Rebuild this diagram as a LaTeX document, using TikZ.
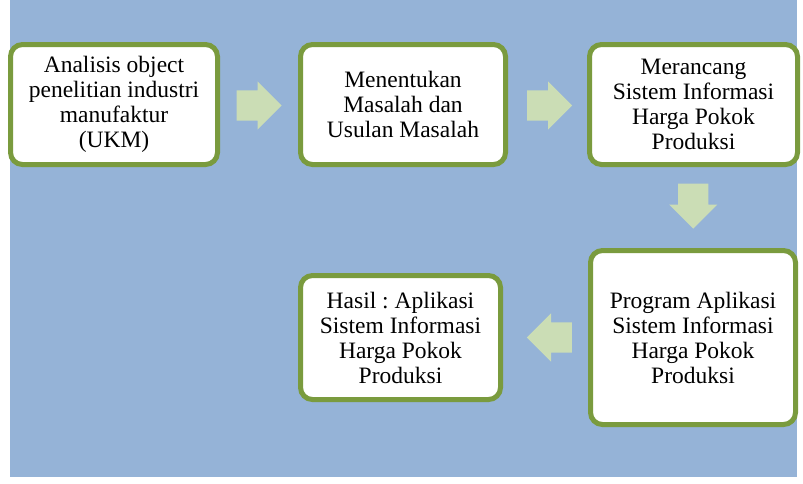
\documentclass[tikz,border=0pt]{standalone}
\usepackage{fontspec}
\setmainfont{Liberation Serif}
\usetikzlibrary{shapes.arrows,positioning,calc}
\frenchspacing

\definecolor{bgblue}{RGB}{149,179,215}
\definecolor{boxgreen}{RGB}{122,155,62}
\definecolor{arrgreen}{RGB}{203,221,181}

\begin{document}
\begin{tikzpicture}[
x=1pt,y=-1pt,
font=\fontsize{23.5}{25}\selectfont,
stepbox/.style={draw=boxgreen, line width=5pt, rounded corners=12pt, fill=white, align=center, inner sep=2pt},
blockarr/.style={single arrow, fill=arrgreen, draw=none, inner xsep=0pt, inner ysep=15pt, single arrow head extend=9pt, minimum height=45pt, anchor=tail}
]
\useasboundingbox (0,0) rectangle (803,483);
\fill[bgblue] (10,0) rectangle (797,477);
\node[stepbox, minimum width=207pt, minimum height=120pt] (s1) at (114,104.5) {Analisis object\\penelitian industri\\manufaktur\\(UKM)};
\node[stepbox, minimum width=205pt, minimum height=120pt] (s2) at (403,104.5) {Menentukan\\Masalah dan\\Usulan Masalah};
\node[stepbox, minimum width=208pt, minimum height=120pt] (s3) at (693.5,104.5) {Merancang\\Sistem Informasi\\Harga Pokok\\Produksi};
\node[stepbox, minimum width=205pt, minimum height=174pt] (s4) at (693,337.5) {Program Aplikasi\\Sistem Informasi\\Harga Pokok\\Produksi};
\node[stepbox, minimum width=200pt, minimum height=124pt] (s5) at (400.5,337.5) {Hasil : Aplikasi\\Sistem Informasi\\Harga Pokok\\Produksi};
% block arrows between the steps
\node[blockarr] (a12) at ($(s1.east)!0.5!(s2.west)+(-22.5,1)$) {};
\node[blockarr] (a23) at ($(s2.east)!0.5!(s3.west)+(-20.5,1)$) {};
\node[blockarr, rotate=-90] (a34) at ($(s3.south)!0.5!(s4.north)+(0,-24)$) {};
\node[blockarr, rotate=180] (a45) at ($(s4.west)!0.5!(s5.east)+(26.5,0)$) {};
\end{tikzpicture}
\end{document}
